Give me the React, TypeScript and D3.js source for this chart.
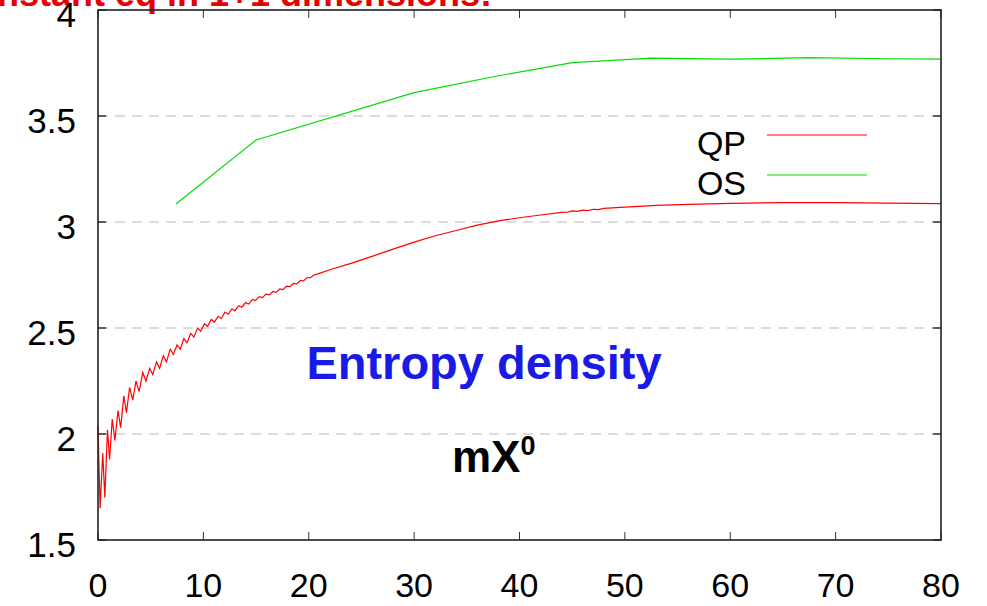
import * as d3 from 'd3';

// axis ticks
const xTicks = [0, 10, 20, 30, 40, 50, 60, 70, 80];
const yTicks = [1.5, 2, 2.5, 3, 3.5, 4];
const gridLevels = [2, 2.5, 3, 3.5];

// QP series (red): oscillating start, smooth tail
const qpPoints: [number, number][] = [
  [0.0, 2.04], [0.2, 1.65], [0.45, 1.91], [0.65, 1.7], [0.9, 2.02], [1.1, 1.88],
  [1.35, 2.07], [1.6, 1.97], [1.9, 2.11], [2.15, 2.03], [2.45, 2.18], [2.7, 2.1],
  [3.0, 2.22], [3.3, 2.16], [3.6, 2.25], [3.9, 2.2], [4.25, 2.29], [4.55, 2.25],
  [4.9, 2.31], [5.2, 2.28], [5.55, 2.34], [5.85, 2.31], [6.2, 2.37], [6.5, 2.34],
  [6.85, 2.4], [7.15, 2.375], [7.5, 2.42], [7.8, 2.4], [8.15, 2.45], [8.45, 2.43],
  [8.8, 2.475], [9.1, 2.457], [9.45, 2.5], [9.75, 2.485], [10.1, 2.52], [10.4, 2.508],
  [10.75, 2.54], [11.05, 2.528], [11.4, 2.555], [11.7, 2.545], [12.05, 2.575], [12.35, 2.565],
  [12.7, 2.59], [13.0, 2.582], [13.35, 2.605], [13.65, 2.598], [14.0, 2.62], [14.3, 2.613],
  [14.65, 2.635], [14.95, 2.629], [15.3, 2.648], [15.6, 2.643], [15.95, 2.66], [16.25, 2.656],
  [16.6, 2.672], [16.9, 2.668], [17.25, 2.684], [17.55, 2.681], [17.9, 2.697], [18.2, 2.695],
  [18.55, 2.71], [18.85, 2.708], [19.2, 2.724], [19.5, 2.722], [19.85, 2.738], [20.15, 2.737],
  [20.5, 2.75], [21.0, 2.758], [22, 2.775], [24, 2.805], [26, 2.838], [28, 2.872],
  [30, 2.905], [32, 2.935], [34, 2.96], [36, 2.985], [38, 3.005], [40, 3.02],
  [42, 3.033], [44, 3.045], [44.5, 3.046], [45, 3.052], [45.5, 3.05], [46, 3.056],
  [46.5, 3.054], [47, 3.06], [47.5, 3.058], [48, 3.064], [50, 3.07], [53, 3.078],
  [56, 3.083], [60, 3.088], [65, 3.091], [70, 3.091], [75, 3.089], [80, 3.087],
];

// OS series (green)
const osPoints: [number, number][] = [
  [7.4, 3.085], [15, 3.387], [30, 3.61], [37.5, 3.685], [45, 3.752],
  [52.5, 3.773], [60, 3.768], [67.5, 3.775], [75, 3.77], [80, 3.768],
];

const legendItems = [
  { label: 'QP', color: '#ff0000' },
  { label: 'OS', color: '#00dd00' },
];

const W = 987;
const H = 606;
const left = 98;
const right = 941;
const top = 10;
const bottom = 540;
const font = '"Liberation Sans", Arial, sans-serif';

export default function App() {
  const x = d3.scaleLinear().domain([0, 80]).range([left, right]);
  const y = d3.scaleLinear().domain([1.5, 4]).range([bottom, top]);

  const line = d3
    .line<[number, number]>()
    .x((d) => x(d[0]))
    .y((d) => y(d[1]));

  return (
    <svg
      width={W}
      height={H}
      style={{ position: 'absolute', left: 0, top: 0, background: '#fff' }}
      fontFamily={font}
    >
      {/* cut-off title at the top edge */}
      <text x={492} y={6} textAnchor="end" fontSize={36} fontWeight="bold" fill="#e60000">
        Constant eq in 1+1 dimensions:
      </text>

      {/* grid */}
      {gridLevels.map((g) => (
        <line
          key={g}
          x1={left}
          x2={right}
          y1={y(g)}
          y2={y(g)}
          stroke="#d0d0d0"
          strokeWidth={1.5}
          strokeDasharray="10,7"
        />
      ))}

      {/* ticks inside the frame */}
      {xTicks.map((t) => (
        <g key={'x' + t} stroke="#333" strokeWidth={1}>
          <line x1={x(t)} x2={x(t)} y1={bottom} y2={bottom - 8} />
          <line x1={x(t)} x2={x(t)} y1={top} y2={top + 8} />
        </g>
      ))}
      {yTicks.map((t) => (
        <g key={'y' + t} stroke="#333" strokeWidth={1.5}>
          <line x1={left} x2={left + 8} y1={y(t)} y2={y(t)} />
          <line x1={right} x2={right - 8} y1={y(t)} y2={y(t)} />
        </g>
      ))}

      {/* series */}
      <path d={line(qpPoints) ?? ''} fill="none" stroke="#ff0000" strokeWidth={1.2} />
      <path d={line(osPoints) ?? ''} fill="none" stroke="#00dd00" strokeWidth={1.2} />

      {/* frame */}
      <rect x={left} y={top} width={right - left} height={bottom - top} fill="none" stroke="#222" strokeWidth={1.6} />

      {/* tick labels */}
      {xTicks.map((t) => (
        <text key={'xl' + t} x={x(t)} y={597} textAnchor="middle" fontSize={34} fill="#000">
          {t}
        </text>
      ))}
      {yTicks.map((t) => (
        <text key={'yl' + t} x={76} y={y(t) + 17} textAnchor="end" fontSize={35} fill="#000">
          {t}
        </text>
      ))}

      {/* legend */}
      {legendItems.map((d, i) => (
        <g key={d.label}>
          <text x={746} y={155 + i * 40} textAnchor="end" fontSize={34} fill="#000">
            {d.label}
          </text>
          <line x1={767} x2={867} y1={135 + i * 40} y2={135 + i * 40} stroke={d.color} strokeWidth={1.2} />
        </g>
      ))}

      {/* annotations */}
      <text x={484} y={379} textAnchor="middle" fontSize={47} fontWeight="bold" fill="#1a1ae6">
        Entropy density
      </text>
      <text x={452} y={472} fontSize={44} fontWeight="bold" fill="#000">
        mX
        <tspan fontSize={27} dy={-17}>0</tspan>
      </text>
    </svg>
  );
}
